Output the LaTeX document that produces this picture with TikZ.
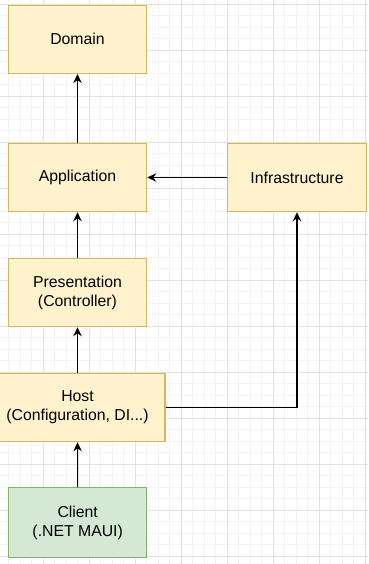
\documentclass[tikz,border=0pt]{standalone}
\usepackage{fontspec}
\setmainfont{Liberation Sans}
\usetikzlibrary{arrows.meta}
\definecolor{gridminor}{HTML}{F3F3F3}
\definecolor{gridmajor}{HTML}{E2E2E2}
\definecolor{layerfill}{HTML}{FFF2CC}
\definecolor{layeredge}{HTML}{D6B656}
\definecolor{clientfill}{HTML}{D5E8D4}
\definecolor{clientedge}{HTML}{82B366}
\begin{document}
\begin{tikzpicture}[x=1pt,y=-1pt,
  layer/.style={draw=layeredge, fill=layerfill, line width=1.15pt,
    minimum width=138.4pt, minimum height=68.4pt, inner sep=0pt,
    align=center, font=\fontsize{15.8}{19}\selectfont},
  clientbox/.style={layer, draw=clientedge, fill=clientfill, minimum height=69.6pt},
  link/.style={draw=black, line width=1.15pt,
    -{Stealth[length=9pt, width=8.5pt, inset=3pt]}}]
  % canvas and grid
  \useasboundingbox (0,0) rectangle (368,564);
  \clip (0,0) rectangle (368,564);
  \fill[white] (0,0) rectangle (368,564);
  \foreach \i in {1,...,32} {
    \draw[gridminor, line width=0.8pt] ({-2.7+11.5*\i},0) -- ({-2.7+11.5*\i},564);
  }
  \foreach \i in {-1,...,48} {
    \draw[gridminor, line width=0.8pt] (0,{4.3+11.5*\i}) -- (368,{4.3+11.5*\i});
  }
  \foreach \i in {1,...,8} {
    \draw[gridmajor, line width=0.8pt] ({-2.7+46*\i},0) -- ({-2.7+46*\i},564);
  }
  \foreach \i in {0,...,12} {
    \draw[gridmajor, line width=0.8pt] (0,{4.3+46*\i}) -- (368,{4.3+46*\i});
  }
  % layers
  \node[layer] (dom) at (77.5,39.3) {Domain};
  \node[layer] (app) at (77.5,177.5) {Application};
  \node[layer, minimum width=139.4pt] (infra) at (297,177.5) {Infrastructure};
  \node[layer] (pres) at (77.5,292.5) {Presentation\\(Controller)};
  \node[layer, minimum width=175pt] (host) at (77.5,407.5) {Host\\(Configuration, DI...)};
  \node[clientbox] (client) at (77.7,522.5) {Client\\(.NET MAUI)};
  % dependencies
  \draw[link] (app) -- (dom);
  \draw[link] (infra) -- (app);
  \draw[link] (pres) -- (app);
  \draw[link] (host) -- (pres);
  \draw[link] (client) -- (host);
  \draw[link] (host.east) -| (infra.south);
\end{tikzpicture}
\end{document}
